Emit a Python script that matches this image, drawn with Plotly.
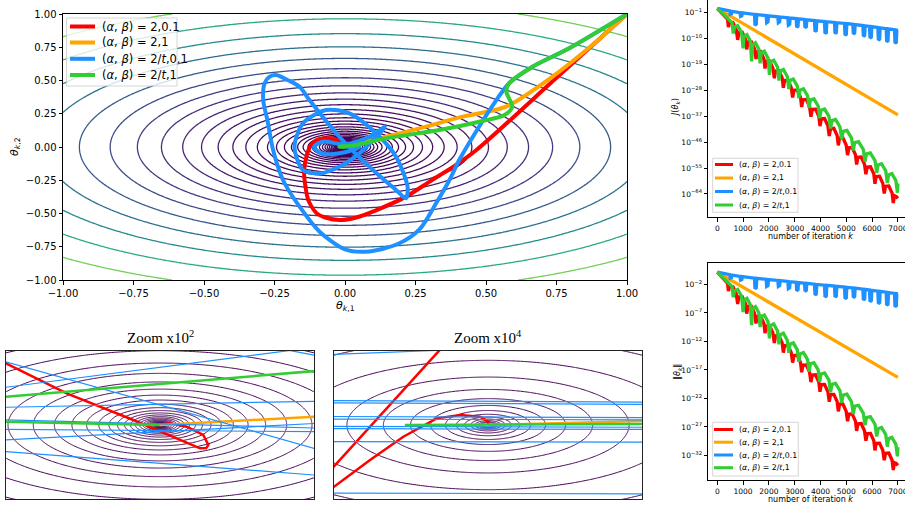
import numpy as np
import plotly.graph_objects as go
from plotly.colors import sample_colorscale

W, H = 905, 506
FONT = "DejaVu Sans"

# ---------------- series labels / colours ----------------
SERIES_NAMES = [
    "(<i>α</i>, <i>β</i>) = 2,0.1",
    "(<i>α</i>, <i>β</i>) = 2,1",
    "(<i>α</i>, <i>β</i>) = 2/<i>t</i>,0.1",
    "(<i>α</i>, <i>β</i>) = 2/<i>t</i>,1",
]
SERIES_COLORS = ["#ff0000", "#ffa500", "#1e90ff", "#32cd32"]

# objective J(theta) = A*theta1^2 + B*theta2^2 (contour background)
OBJ_A, OBJ_B = 1.0, 2.0
# log10 contour levels: (top level, step, number of levels) per panel
MAIN_LEVELS = (0.483, 0.107, 42)
ZOOM2_LEVELS = (0.4626, 0.158, 22)
ZOOM4_LEVELS = (0.444, 0.26, 12)

# ---------------- main panel trajectories (theta1, theta2) ----------------
red_t1 = [1.0, 0.75, 0.466, 0.39, 0.3, 0.215, 0.112, 0.04, -0.018, -0.07, -0.1, -0.13, -0.142, -0.145, -0.142, -0.124, -0.1, -0.053, -0.006, 0.0]
red_t2 = [1.0, 0.52, -0.023, -0.14, -0.26, -0.375, -0.474, -0.53, -0.549, -0.53, -0.499, -0.4, -0.273, -0.2, -0.123, 0.002, 0.053, 0.065, 0.028, 0.0]

orange_t1 = [1.0, 0.879, 0.736, 0.571, 0.417, 0.264, 0.146, 0.05, 0.004, 0.0]
orange_t2 = [1.0, 0.77, 0.529, 0.303, 0.228, 0.14, 0.077, 0.03, 0.015, 0.0]

blue_t1 = [1.0, 0.795, 0.665, 0.582, 0.52, 0.46, 0.405, 0.37, 0.323, 0.264,
           0.193, 0.087, 0.0, -0.09, -0.161, -0.22, -0.255, -0.275, -0.29, -0.285,
           -0.267, -0.244, -0.2, -0.161, -0.126, -0.02, 0.099, 0.181, 0.216, 0.222,
           0.181, 0.11, 0.016, -0.067, -0.149, -0.179, -0.149, -0.09, -0.02, 0.051,
           0.142, 0.09, 0.0, -0.08, -0.11, -0.08, 0.0, 0.05, 0.02, 0.0]
blue_t2 = [1.0, 0.742, 0.604, 0.479, 0.3, 0.1, -0.098, -0.25, -0.423, -0.62,
           -0.724, -0.785, -0.77, -0.637, -0.449, -0.248, -0.023, 0.2, 0.353, 0.48,
           0.529, 0.541, 0.5, 0.453, 0.353, 0.077, -0.173, -0.323, -0.386, -0.3,
           -0.073, 0.103, 0.253, 0.278, 0.178, 0.0, -0.173, -0.198, -0.148, -0.047,
           0.153, 0.08, 0.02, 0.04, 0.0, -0.05, -0.04, 0.0, 0.01, 0.0]

green_t1 = [1.0, 0.795, 0.665, 0.582, 0.572, 0.593, 0.566, 0.476, 0.334, 0.146, 0.03, -0.02, 0.0]
green_t2 = [1.0, 0.742, 0.604, 0.479, 0.416, 0.303, 0.241, 0.19, 0.128, 0.065, 0.012, 0.002, 0.0]

# ---------------- zoom x10^2 panel (units of 1e-2) ----------------
red_z2_u = [-1.2, -1.0, -0.606, -0.173, 0.086, 0.26, 0.3, 0.314, 0.281, 0.173, 0.065, 0.02, 0.0]
red_z2_v = [1.04, 0.834, 0.428, 0.068, -0.158, -0.315, -0.31, -0.27, -0.135, -0.023, 0.023, 0.01, 0.0]
orange_z2_u = [1.3, 0.0]
orange_z2_v = [0.146, 0.0]
blue_z2_u = [-1.3, 1.3, None, -1.3, 1.3, None, -1.3, 1.3, None, 0.6, 1.3, None,
             -1.3, 1.3, None, -1.3, 1.3, None, -1.3, 1.3, None, -1.3, 1.3]
blue_z2_v = [1.03, -0.49, None, 0.228, 0.332, None, 0.429, 1.13, None, 1.1, 0.83, None,
             -0.313, -0.723, None, 0.087, -0.057, None, -0.055, -0.095, None, -0.233, 0.053]
green_z2_u = [1.3, -1.3, -1.6, -1.3, -0.02, 0.0]
green_z2_v = [0.78, 0.33, 0.2, 0.059, 0.0, 0.0]

# ---------------- zoom x10^4 panel (units of 1e-4) ----------------
red_z4_u = [-1.1, -0.28, None, -1.1, -1.0, -0.766, -0.55, -0.333, -0.18, -0.052, 0.002, 0.0]
red_z4_v = [-0.789, 1.09, None, -0.988, -0.834, -0.473, -0.158, 0.09, 0.135, 0.112, 0.045, 0.0]
orange_z4_u = [1.3, 0.0]
orange_z4_v = [0.07, 0.0]
blue_z4_u = [-1.3, 1.3, None, -1.3, 1.3, None, -1.3, 1.3, None, -1.3, 1.3, None, -1.3, 1.3, None,
             -1.3, 1.3, None, -1.3, 1.3, None, -1.3, 1.3, None, -1.3, 1.3]
blue_z4_v = [0.93, 1.14, None, 0.333, 0.307, None, 0.303, 0.277, None, 0.117, 0.098, None, 0.082, 0.068, None,
             -0.018, -0.032, None, -0.048, -0.062, None, -0.224, -0.231, None, -0.918, -0.932]
green_z4_u = [1.3, 0.5, -0.54, 0.0]
green_z4_v = [0.018, 0.01, 0.0, 0.0]

# ---------------- convergence curves: (iteration k, log10 J, log10 ||theta||) ----------------
red_conv = [
    (0, 0.48, 0.15), (150, -0.9, -0.56), (300, -2.3, -1.28), (400, -3.3, -1.79),
    (430, -6.0, -3.15), (480, -4.53, -2.42), (608, -4.44, -2.39), (735, -6.93, -3.66),
    (790, -10.45, -5.42), (840, -7.92, -4.16), (968, -7.82, -4.13), (1095, -10.31, -5.39),
    (1140, -13.74, -7.11), (1190, -11.21, -5.85), (1318, -11.11, -5.82), (1445, -13.6, -7.08),
    (1500, -17.12, -8.85), (1550, -14.59, -7.59), (1678, -14.49, -7.56), (1805, -16.99, -8.82),
    (1850, -20.41, -10.54), (1900, -17.88, -9.28), (2028, -17.78, -9.24), (2155, -20.28, -10.51),
    (2210, -23.79, -12.28), (2260, -21.26, -11.01), (2388, -21.17, -10.99), (2515, -23.66, -12.25),
    (2560, -27.08, -13.96), (2610, -24.55, -12.71), (2738, -24.46, -12.68), (2865, -26.95, -13.94),
    (2920, -30.47, -15.71), (2970, -27.94, -14.45), (3098, -27.84, -14.41), (3225, -30.34, -15.68),
    (3270, -33.76, -17.4), (3320, -31.23, -16.14), (3448, -31.13, -16.11), (3575, -33.63, -17.37),
    (3630, -37.14, -19.13), (3680, -34.61, -17.88), (3808, -34.52, -17.85), (3935, -37.01, -19.11),
    (3980, -40.43, -20.83), (4030, -37.9, -19.56), (4158, -37.81, -19.54), (4285, -40.3, -20.8),
    (4340, -43.82, -22.56), (4390, -41.29, -21.31), (4518, -41.19, -21.28), (4645, -43.68, -22.53),
    (4690, -47.11, -24.26), (4740, -44.58, -23.0), (4868, -44.48, -22.96), (4995, -46.97, -24.23),
    (5050, -50.49, -26.0), (5100, -47.96, -24.73), (5228, -47.86, -24.7), (5355, -50.36, -25.97),
    (5400, -53.78, -27.68), (5450, -51.25, -26.43), (5578, -51.15, -26.4), (5705, -53.65, -27.66),
    (5760, -57.16, -29.42), (5810, -54.63, -28.17), (5938, -54.54, -28.13), (6065, -57.03, -29.4),
    (6110, -60.45, -31.11), (6160, -57.92, -29.85), (6288, -57.83, -29.83), (6415, -60.32, -31.08),
    (6470, -63.84, -32.85), (6520, -61.31, -31.6), (6648, -61.21, -31.56), (6775, -63.71, -32.83),
    (6820, -67.13, -34.55), (6870, -64.6, -33.28), (6940, -64.9, -33.44), (7000, -65.5, -33.75),
]
orange_conv = [(0, 0.48, 0.15), (7000, -36.5, -18.3)]
blue_conv = [
    (0, 0.48, 0.15), (250, 0.03, -0.075), (480, -0.39, -0.285), (500, -1.6, -0.89), (550, -1.4, -0.79),
    (570, -0.56, -0.37), (880, -0.97, -0.575), (900, -2.3, -1.24), (950, -2.1, -1.14), (970, -1.08, -0.63),
    (1200, -1.37, -0.775), (1441, -1.61, -0.895), (1461, -5.3, -2.74), (1511, -5.0, -2.59), (1531, -1.69, -0.935),
    (1700, -1.84, -1.01), (1894, -2.01, -1.095), (1914, -4.5, -2.34), (1964, -4.2, -2.19), (1984, -2.09, -1.135),
    (2150, -2.24, -1.21), (2346, -2.41, -1.295), (2366, -4.5, -2.34), (2416, -4.2, -2.19), (2436, -2.49, -1.335),
    (2600, -2.64, -1.41), (2734, -2.76, -1.47), (2754, -5.3, -2.74), (2804, -5.0, -2.59), (2824, -2.85, -1.515),
    (2950, -2.96, -1.57), (3057, -3.06, -1.62), (3077, -6.0, -3.09), (3127, -5.7, -2.94), (3147, -3.14, -1.66),
    (3260, -3.25, -1.715), (3380, -3.36, -1.77), (3400, -6.2, -3.19), (3450, -5.9, -3.04), (3470, -3.45, -1.815),
    (3620, -3.59, -1.885), (3767, -3.72, -1.95), (3787, -7.5, -3.84), (3837, -7.2, -3.69), (3857, -3.81, -1.995),
    (4000, -3.93, -2.055), (4155, -4.06, -2.12), (4175, -8.2, -4.19), (4225, -7.9, -4.04), (4245, -4.14, -2.16),
    (4380, -4.25, -2.215), (4543, -4.39, -2.285), (4563, -8.2, -4.19), (4613, -7.9, -4.04), (4633, -4.47, -2.325),
    (4780, -4.59, -2.385), (4930, -4.72, -2.45), (4950, -8.8, -4.49), (5000, -8.5, -4.34), (5020, -4.8, -2.49),
    (5120, -4.88, -2.53), (5253, -5.03, -2.605), (5273, -8.4, -4.29), (5323, -8.1, -4.14), (5343, -5.13, -2.655),
    (5480, -5.29, -2.735), (5641, -5.48, -2.83), (5661, -9.2, -4.69), (5711, -8.9, -4.54), (5731, -5.58, -2.88),
    (5820, -5.69, -2.935), (5899, -5.78, -2.98), (5919, -9.8, -4.99), (5969, -9.5, -4.84), (5989, -5.88, -3.03),
    (6100, -6.01, -3.095), (6222, -6.15, -3.165), (6242, -10.5, -5.34), (6292, -10.2, -5.19), (6312, -6.26, -3.22),
    (6420, -6.38, -3.28), (6545, -6.54, -3.36), (6565, -11.1, -5.64), (6615, -10.8, -5.49), (6635, -6.65, -3.415),
    (6750, -6.79, -3.485), (6868, -6.94, -3.56), (6888, -11.6, -5.89), (6938, -11.3, -5.74), (6958, -7.05, -3.615),
    (7000, -7.1, -3.64),
]
green_conv = [
    (0, 0.48, 0.15), (150, -0.9, -0.55), (300, -2.2, -1.2), (450, -3.4, -1.81), (570, -4.4, -2.31),
    (620, -8.25, -4.24), (666, -6.05, -3.15), (791, -5.52, -2.88), (943, -7.93, -4.1),
    (1000, -13.42, -6.84), (1040, -9.26, -4.76), (1149, -8.6, -4.44), (1281, -10.84, -5.56),
    (1330, -17.96, -9.12), (1370, -12.1, -6.19), (1479, -11.44, -5.87), (1611, -13.67, -6.99),
    (1660, -18.6, -9.46), (1703, -14.97, -7.65), (1822, -14.39, -7.36), (1966, -16.73, -8.54),
    (2020, -22.6, -11.47), (2064, -18.07, -9.21), (2186, -17.52, -8.94), (2334, -19.89, -10.13),
    (2390, -24.57, -12.48), (2436, -21.27, -10.83), (2561, -20.74, -10.56), (2713, -23.15, -11.78),
    (2770, -27.54, -13.97), (2817, -24.55, -12.48), (2946, -24.06, -12.24), (3102, -26.5, -13.46),
    (3160, -30.7, -15.57), (3208, -27.91, -14.18), (3340, -27.44, -13.94), (3500, -29.92, -15.19),
    (3560, -34.14, -17.3), (3609, -31.36, -15.91), (3745, -30.93, -15.71), (3909, -33.44, -16.97),
    (3970, -37.66, -19.08), (4020, -34.89, -17.7), (4159, -34.49, -17.51), (4327, -37.03, -18.78),
    (4390, -41.27, -20.9), (4442, -38.52, -19.53), (4584, -38.14, -19.34), (4756, -40.72, -20.64),
    (4820, -44.97, -22.77), (4874, -42.24, -21.4), (5023, -41.92, -21.25), (5203, -44.57, -22.59),
    (5270, -48.84, -24.72), (5325, -46.12, -23.36), (5475, -45.81, -23.22), (5657, -48.47, -24.56),
    (5725, -52.76, -26.7), (5780, -50.03, -25.34), (5930, -49.72, -25.19), (6112, -52.38, -26.52),
    (6180, -56.67, -28.68), (6229, -53.89, -27.29), (6365, -53.46, -27.07), (6529, -55.97, -28.34),
    (6590, -60.19, -30.45), (6637, -57.4, -29.06), (6766, -56.91, -28.82), (6922, -59.35, -30.05),
    (6980, -63.55, -32.15), (7000, -60.3, -30.52),
]

ITER_TICKS = [0, 1000, 2000, 3000, 4000, 5000, 6000, 7000]
J_TICK_EXP = [-1, -10, -19, -28, -37, -46, -55, -64]
N_TICK_EXP = [-2, -7, -12, -17, -22, -27, -32]
THETA_TICKS = [-1.0, -0.75, -0.5, -0.25, 0.0, 0.25, 0.5, 0.75, 1.0]


# ---------------- helpers ----------------
def X(px):
    return px / W


def Y(py):
    return 1 - py / H


def stretched_grid(lim, n):
    u = np.linspace(-lim, lim, n)
    return u * (0.25 + 0.75 * np.abs(u) / lim)


def contour_trace(lim, n, levels, colorfn, xa, ya, width):
    top, step, nlev = levels
    g = stretched_grid(lim, n)
    gx, gy = np.meshgrid(g, g)
    z = np.round(np.log10(OBJ_A * gx ** 2 + OBJ_B * gy ** 2), 4)
    start = top - step * nlev
    cs = []
    for i in range(nlev + 1):
        cs.append([i / nlev, colorfn(10 ** (start + i * step - top))])
    return go.Contour(
        x=np.round(g, 5), y=np.round(g, 5), z=z, xaxis=xa, yaxis=ya,
        autocontour=False,
        contours=dict(coloring="lines", start=start, end=top, size=step, showlabels=False),
        line=dict(width=width, smoothing=1.0),
        colorscale=cs, showscale=False, hoverinfo="skip",
    )


def viridis(v):
    return sample_colorscale("Viridis", [min(max(v, 0.0), 1.0)])[0]


fig = go.Figure()

# contours
fig.add_trace(contour_trace(1.0, 300, MAIN_LEVELS, viridis, "x", "y", 1.3))
fig.add_trace(contour_trace(1.05, 200, ZOOM2_LEVELS, lambda v: "#440154", "x2", "y2", 1.0))
fig.add_trace(contour_trace(1.05, 200, ZOOM4_LEVELS, lambda v: "#440154", "x3", "y3", 1.0))

# main trajectories
main_sets = [(red_t1, red_t2), (orange_t1, orange_t2), (blue_t1, blue_t2), (green_t1, green_t2)]
for (tx, ty), name, col in zip(main_sets, SERIES_NAMES, SERIES_COLORS):
    fig.add_trace(go.Scatter(x=tx, y=ty, mode="lines", name=name, xaxis="x", yaxis="y",
                             line=dict(color=col, width=4, shape="spline", smoothing=0.8),
                             hoverinfo="skip", showlegend=False))

# zoom panels
z2_sets = [(red_z2_u, red_z2_v, 2.5), (orange_z2_u, orange_z2_v, 2.5), (blue_z2_u, blue_z2_v, 1.2), (green_z2_u, green_z2_v, 2.5)]
for (u, v, w), col in zip(z2_sets, SERIES_COLORS):
    fig.add_trace(go.Scatter(x=u, y=v, mode="lines", xaxis="x2", yaxis="y2", connectgaps=False,
                             line=dict(color=col, width=w), hoverinfo="skip", showlegend=False))
z4_sets = [(red_z4_u, red_z4_v, 2.5), (orange_z4_u, orange_z4_v, 2.5), (blue_z4_u, blue_z4_v, 1.2), (green_z4_u, green_z4_v, 2.5)]
for (u, v, w), col in zip(z4_sets, SERIES_COLORS):
    fig.add_trace(go.Scatter(x=u, y=v, mode="lines", xaxis="x3", yaxis="y3", connectgaps=False,
                             line=dict(color=col, width=w), hoverinfo="skip", showlegend=False))

# convergence plots
conv_sets = [red_conv, orange_conv, blue_conv, green_conv]
for data, col in zip(conv_sets, SERIES_COLORS):
    k = [p[0] for p in data]
    fig.add_trace(go.Scatter(x=k, y=[10 ** p[1] for p in data], mode="lines", xaxis="x4", yaxis="y4",
                             line=dict(color=col, width=3.3), hoverinfo="skip", showlegend=False))
    fig.add_trace(go.Scatter(x=k, y=[10 ** p[2] for p in data], mode="lines", xaxis="x5", yaxis="y5",
                             line=dict(color=col, width=3.3), hoverinfo="skip", showlegend=False))

axis_common = dict(showline=True, mirror=True, linecolor="black", linewidth=1, showgrid=False,
                   zeroline=False, ticks="outside", ticklen=3.5, tickwidth=0.8, tickcolor="black",
                   automargin=False)
box_only = dict(showline=True, mirror=True, linecolor="#222222", linewidth=1, showgrid=False,
                zeroline=False, ticks="", showticklabels=False, range=[-1, 1], automargin=False)

sup = lambda e: "10<sup>−%d</sup>" % (-e)

fig.update_layout(
    width=W, height=H, margin=dict(l=0, r=0, t=0, b=0, autoexpand=False),
    paper_bgcolor="white", plot_bgcolor="white", showlegend=False,
    font=dict(family=FONT, color="black"),
    xaxis=dict(domain=[X(63), X(627)], range=[-1, 1], anchor="y", tickvals=THETA_TICKS,
               tickformat=".2f", tickfont=dict(size=10), **axis_common),
    yaxis=dict(domain=[Y(280), Y(14)], range=[-1, 1], anchor="x", tickvals=THETA_TICKS,
               tickformat=".2f", tickfont=dict(size=10), **axis_common),
    xaxis2=dict(domain=[X(6), X(314)], anchor="y2", **box_only),
    yaxis2=dict(domain=[Y(499), Y(351)], anchor="x2", **box_only),
    xaxis3=dict(domain=[X(334), X(642)], anchor="y3", **box_only),
    yaxis3=dict(domain=[Y(499), Y(351)], anchor="x3", **box_only),
    xaxis4=dict(domain=[X(708), 1.0], range=[-360, 7275], anchor="y4", tickvals=ITER_TICKS,
                tickformat="d", tickfont=dict(size=7.5), ticklabeloverflow="allow", **axis_common),
    yaxis4=dict(domain=[Y(217), 1.0], type="log", range=[-72.0, 3.41], anchor="x4",
                tickvals=[10.0 ** e for e in J_TICK_EXP], ticktext=[sup(e) for e in J_TICK_EXP],
                tickfont=dict(size=7.5), **axis_common),
    xaxis5=dict(domain=[X(708), 1.0], range=[-360, 7275], anchor="y5", tickvals=ITER_TICKS,
                tickformat="d", tickfont=dict(size=7.5), ticklabeloverflow="allow", **axis_common),
    yaxis5=dict(domain=[Y(480), Y(262.7)], type="log", range=[-36.3, 1.82], anchor="x5",
                tickvals=[10.0 ** e for e in N_TICK_EXP], ticktext=[sup(e) for e in N_TICK_EXP],
                tickfont=dict(size=7.5), **axis_common),
)


def annot(px, py, text, size, angle=0, family=FONT, xanchor="center"):
    fig.add_annotation(xref="paper", yref="paper", x=X(px), y=Y(py), text=text, showarrow=False,
                       xanchor=xanchor, yanchor="middle", textangle=angle,
                       font=dict(size=size, family=family, color="black"))


annot(345, 306, "<i>θ</i><sub><i>k</i>,1</sub>", 11)
annot(15, 147, "<i>θ</i><sub><i>k</i>,2</sub>", 11, angle=-90)
annot(160, 337, "Zoom x10<sup>2</sup>", 15, family="Liberation Serif")
annot(488, 337, "Zoom x10<sup>4</sup>", 15, family="Liberation Serif")
annot(810, 237, "number of iteration <i>k</i>", 8)
annot(810, 499, "number of iteration <i>k</i>", 8)
annot(676, 108, "<i>J</i>(<i>θ</i><sub><i>k</i></sub>)", 8, angle=-90)
annot(678, 372, "‖<i>θ</i><sub><i>k</i></sub>‖", 8, angle=-90)


def add_legend(box, rows, lx, tx, fs, lw):
    x0, y0, x1, y1 = box
    fig.add_shape(type="rect", xref="paper", yref="paper", x0=X(x0), x1=X(x1), y0=Y(y1), y1=Y(y0),
                  line=dict(color="#cccccc", width=0.8), fillcolor="rgba(255,255,255,0.8)", layer="above")
    for name, col, ry in zip(SERIES_NAMES, SERIES_COLORS, rows):
        fig.add_shape(type="line", xref="paper", yref="paper", x0=X(lx[0]), x1=X(lx[1]), y0=Y(ry), y1=Y(ry),
                      line=dict(color=col, width=lw), layer="above")
        annot(tx, ry, name, fs, xanchor="left")


add_legend((66.5, 18, 177, 86), [26.5, 42.5, 58.8, 75.0], (70, 95), 100, 11.5, 4)
add_legend((712.7, 158.3, 798, 212.3), [164.5, 178.0, 191.5, 205.0], (715, 733), 737, 7.8, 3)
add_legend((712.7, 422.3, 798.3, 476.0), [429.5, 442.2, 455.0, 467.7], (714, 733), 737, 7.8, 3)

fig.write_html("out.html", config={"displayModeBar": False},
               post_script="document.body.style.margin='0px';document.body.style.overflow='hidden';")
